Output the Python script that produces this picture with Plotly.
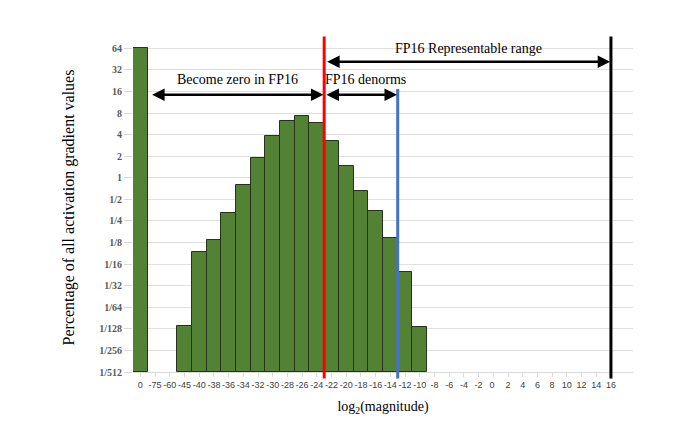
import plotly.graph_objects as go

categories = ["0", "-75", "-60", "-45", "-40", "-38", "-36", "-34", "-32", "-30", "-28", "-26",
              "-24", "-22", "-20", "-18", "-16", "-14", "-12", "-10", "-8", "-6", "-4", "-2",
              "0 ", "2", "4", "6", "8", "10", "12", "14", "16"]
# log2 of percentage of values in each bin (None = empty)
log2_pct = [6.03, None, None, -6.85, -3.45, -2.86, -1.62, -0.34, 0.90, 1.95, 2.63, 2.85,
            2.55, 1.73, 0.53, -0.63, -1.56, -2.78, -4.35, -6.93] + [None] * 13
ytick_exp = list(range(-9, 7))
ytick_text = ["1/512", "1/256", "1/128", "1/64", "1/32", "1/16", "1/8", "1/4", "1/2",
              "1", "2", "4", "8", "16", "32", "64"]
base_exp = -9
xs = list(range(len(categories)))

fig = go.Figure(go.Bar(
    x=xs, y=[None if v is None else v - base_exp for v in log2_pct], base=base_exp,
    marker=dict(color="#548235", line=dict(color="#26331a", width=1)), width=1.0,
))

serif = "Liberation Serif"
fig.update_layout(
    width=673, height=421, margin=dict(l=125, r=48, t=35, b=57, autoexpand=False),
    plot_bgcolor="white", paper_bgcolor="white", showlegend=False, bargap=0,
    xaxis=dict(range=[-0.5, 33.5], tickvals=xs, ticktext=categories, tickangle=0, automargin=False,
               tickfont=dict(family="Liberation Sans", size=9, color="#404040"),
               showgrid=False, zeroline=False, showline=True, linecolor="#d9d9d9",
               ticks="outside", tickcolor="#d9d9d9", ticklen=4,
               title=dict(text="log<sub>2</sub>(magnitude)", font=dict(family=serif, size=14, color="#000"), standoff=12)),
    yaxis=dict(range=[-9, 6.25], tickvals=ytick_exp, ticktext=ytick_text, automargin=False,
               tickfont=dict(family=serif, size=10, color="#595959", weight="bold"),
               showgrid=True, gridcolor="#e0e0e0", zeroline=False, showline=False,
               ticks="outside", tickcolor="#d9d9d9", ticklen=8,
               title=dict(text="Percentage of all activation gradient values", font=dict(family=serif, size=16, color="#000"), standoff=20)),
)

def vline(x, color, top=1.01, bottom=-0.02):
    fig.add_shape(type="line", xref="x", yref="paper", x0=x, x1=x, y0=bottom, y1=top,
                  line=dict(color=color, width=3))

vline(12.5, "#ff0000", top=1.02)
vline(17.5, "#4472c4", top=0.86)
vline(32, "#000000", top=1.02)

def arrow(x0, x1, y):
    fig.add_annotation(x=x1, y=y, ax=x0, ay=y, xref="x", yref="y", axref="x", ayref="y",
                       text="", showarrow=True, arrowhead=2, startarrowhead=2, arrowside="end+start",
                       arrowsize=1, arrowwidth=2.5, arrowcolor="#000")

arrow(0.7, 12.45, 3.85)
arrow(12.55, 17.45, 3.85)
arrow(12.6, 31.95, 5.38)

for txt, x, y in [("Become zero in FP16", 6.6, 4.55), ("FP16 denorms", 15.3, 4.55),
                  ("FP16 Representable range", 22.3, 6.0)]:
    fig.add_annotation(x=x, y=y, xref="x", yref="y", text=txt, showarrow=False,
                       font=dict(family=serif, size=14, color="#000"))

fig.write_html("out.html")
